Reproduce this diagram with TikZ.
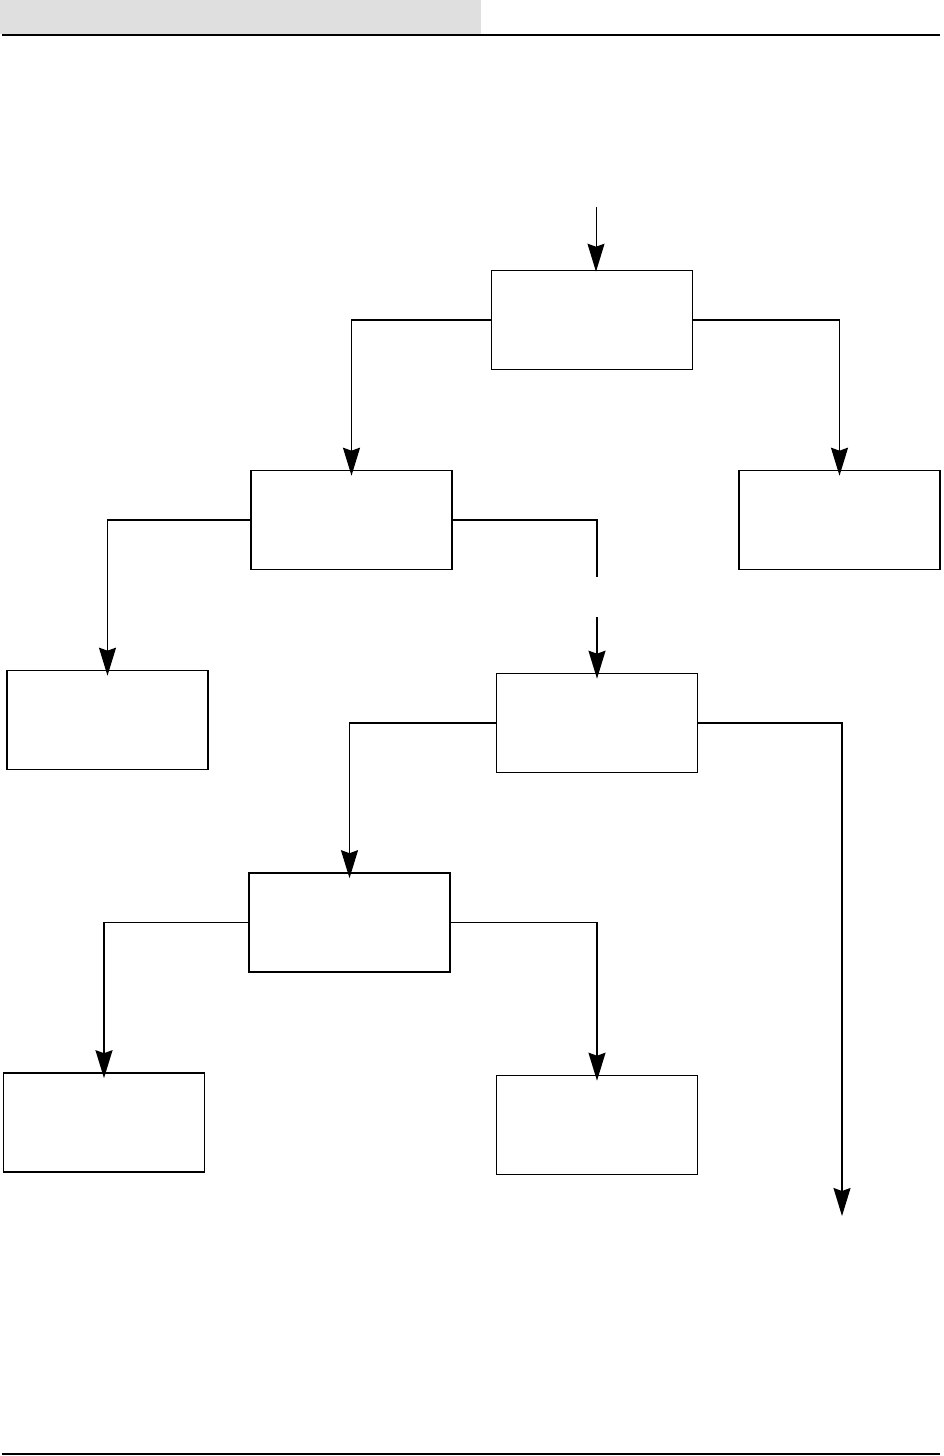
\documentclass[tikz,border=0pt]{standalone}
\usetikzlibrary{arrows.meta}
\definecolor{hdr}{HTML}{DFDFDF}
\begin{document}
\begin{tikzpicture}[x=1pt,y=-1pt,
  box/.style={draw,line width=1.6pt,minimum width=201pt,minimum height=99pt,inner sep=0pt},
  conn/.style={line width=1.6pt},
  arr/.style={line width=1.6pt,-{Stealth[length=28pt,width=17pt,inset=3pt]},shorten >=-6pt},
  thinarr/.style={line width=1pt,-{Stealth[length=28pt,width=17pt,inset=3pt]},shorten >=-2pt},
  rule/.style={line width=2.2pt}]
\useasboundingbox (0,0) rectangle (944,1456);
\fill[hdr] (0,0) rectangle (481,34);
\draw[rule] (2,35) -- (940,35);
\draw[rule] (2,1454) -- (940,1454);

\node[box] (A) at (592,320) {};
\node[box] (B) at (351.5,520) {};
\node[box] (C) at (839.5,520) {};
\node[box] (D) at (107.5,720) {};
\node[box] (E) at (597,723) {};
\node[box] (F) at (349.5,922.5) {};
\node[box] (G) at (104,1122.5) {};
\node[box] (H) at (597,1125) {};

\coordinate (in) at (596,207);
\coordinate (g1) at (597,577);
\coordinate (g2) at (597,617);
\coordinate (out) at (842,1210);

\draw[thinarr] (in) -- (in |- A.north);
\draw[arr] (A.west) -| (B.north);
\draw[arr] (A.east) -| (C.north);
\draw[arr] (B.west) -| (D.north);
\draw[conn] (B.east) -| (g1);
\draw[arr] (g2) -- (g2 |- E.north);
\draw[arr] (E.west) -| (F.north);
\draw[arr] (E.east) -| (out);
\draw[arr] (F.west) -| (G.north);
\draw[arr] (F.east) -| (H.north);
\end{tikzpicture}
\end{document}
